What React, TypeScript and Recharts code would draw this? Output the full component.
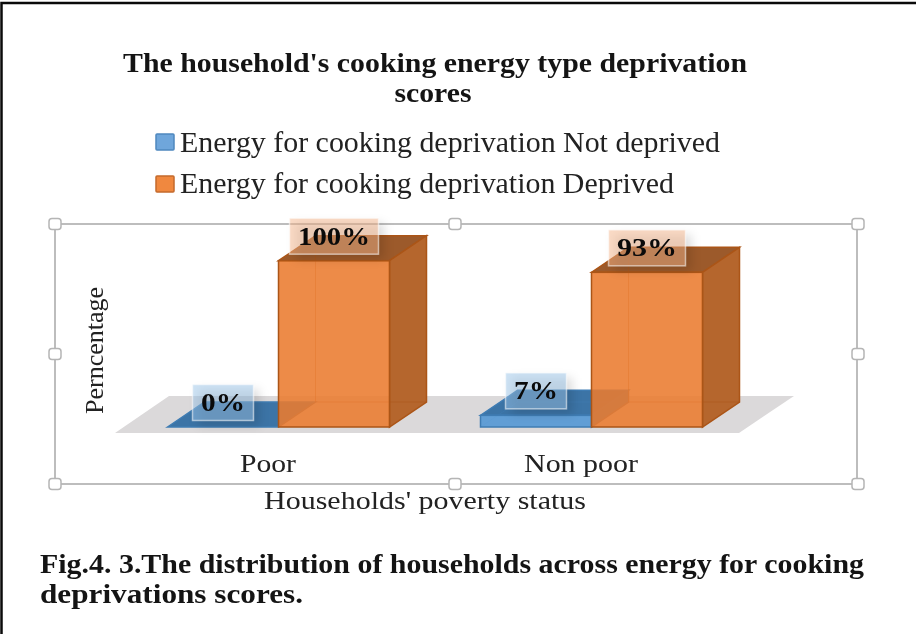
import * as React from "react";
import { BarChart, Bar, XAxis, YAxis, Legend, LabelList, usePlotArea } from "recharts";

// Values
const categories = ["Poor", "Non poor"];
const notDeprived = [0, 7];
const deprived = [100, 93];
const seriesNames = [
  "Energy for cooking deprivation Not deprived",
  "Energy for cooking deprivation Deprived",
];
const titleLines = ["The household's cooking energy type deprivation", "scores"];
const captionLines = [
  "Fig.4. 3.The distribution of households across energy for cooking",
  "deprivations scores.",
];
const xTitle = "Households' poverty status";
const yTitle = "Perncentage";

const data = categories.map((name, i) => ({
  name,
  notDeprived: notDeprived[i],
  deprived: deprived[i],
}));

const SERIF = "'Liberation Serif', serif";
const DEPTH_X = 37;
const DEPTH_Y = 25;

// Width of each text in the source, which is a stretched scan
const textWidths: Record<string, number> = {
  "Poor": 56,
  "Non poor": 114,
  "0%": 44,
  "7%": 44,
  "93%": 60,
  "100%": 72,
};

interface ICuboidColors {
  front: string;
  side: string;
  top: string;
  edge: string;
  opacity: number;
}

const blueColors: ICuboidColors = { front: "#5b9bd5", side: "#3d78ad", top: "#3c74a6", edge: "#3f7cb3", opacity: 0.95 };
const orangeColors: ICuboidColors = { front: "#ea7b2f", side: "#b5662d", top: "#9c5a2b", edge: "#ab5517", opacity: 0.88 };

const Cuboid = (colors: ICuboidColors) =>
  function CuboidShape(props: any) {
    const { x, y, width, height } = props;
    const base = y + height;
    const r = x + width;
    return (
      <g>
        <polygon
          points={`${x},${y} ${x + DEPTH_X},${y - DEPTH_Y} ${r + DEPTH_X},${y - DEPTH_Y} ${r},${y}`}
          fill={colors.top}
          stroke={colors.edge}
          strokeWidth={1.5}
        />
        {height > 0 && (
          <>
            <polygon
              points={`${r},${y} ${r + DEPTH_X},${y - DEPTH_Y} ${r + DEPTH_X},${base - DEPTH_Y} ${r},${base}`}
              fill={colors.side}
              stroke={colors.edge}
              strokeWidth={1.5}
            />
            <polyline
              points={`${x},${base} ${x + DEPTH_X},${base - DEPTH_Y} ${r + DEPTH_X},${base - DEPTH_Y}`}
              fill="none"
              stroke={colors.edge}
              strokeOpacity={0.5}
            />
            <line
              x1={x + DEPTH_X}
              y1={y - DEPTH_Y}
              x2={x + DEPTH_X}
              y2={base - DEPTH_Y}
              stroke={colors.edge}
              strokeOpacity={0.5}
            />
            <rect
              x={x}
              y={y}
              width={width}
              height={height}
              fill={colors.front}
              fillOpacity={colors.opacity}
              stroke={colors.edge}
              strokeWidth={1.5}
            />
          </>
        )}
      </g>
    );
  };

const BlueShape = Cuboid(blueColors);
const OrangeShape = Cuboid(orangeColors);

// Data label sits on a pale box above the front face, with a soft shadow
const boxLabel = (fill: string) =>
  function BoxLabel(props: any) {
    const { x, y, width, value } = props;
    const text = `${value}%`;
    const w = textWidths[text] + 17;
    const cx = x + width / 2;
    const cy = y - 24.5;
    return (
      <g>
        <rect
          x={cx - w / 2 + 6}
          y={cy - 13}
          width={w}
          height={36}
          fill="#000000"
          fillOpacity={0.13}
          style={{ filter: "blur(5px)" }}
        />
        <rect
          x={cx - w / 2}
          y={cy - 18}
          width={w}
          height={36}
          fill={fill}
          fillOpacity={0.5}
          stroke="#ffffff"
          strokeOpacity={0.55}
          strokeWidth={1.5}
        />
        <text
          x={cx}
          y={cy + 8.5}
          textAnchor="middle"
          fontFamily={SERIF}
          fontWeight="bold"
          fontSize={26}
          fill="#0a0a0a"
          textLength={textWidths[text]}
          lengthAdjust="spacingAndGlyphs"
        >
          {text}
        </text>
      </g>
    );
  };

// Grey floor under the bars, placed from the plot area
const Floor = () => {
  const plot = usePlotArea();
  if (!plot) return null;
  const bottom = plot.y + plot.height + 6;
  const back = plot.y + plot.height - 31;
  const left = plot.x - 6.5;
  const right = plot.x + plot.width - 8.5;
  return (
    <polygon
      points={`${left},${bottom} ${left + 54},${back} ${right + 55},${back} ${right},${bottom}`}
      fill="#dbd9da"
    />
  );
};

const CategoryTick = (props: any) => {
  const { x, y, payload } = props;
  return (
    <text
      x={x - 10}
      y={y + 37}
      textAnchor="middle"
      fontFamily={SERIF}
      fontSize={26}
      fill="#222222"
      textLength={textWidths[payload.value]}
      lengthAdjust="spacingAndGlyphs"
    >
      {payload.value}
    </text>
  );
};

const XTitle = (props: any) => {
  const { viewBox } = props;
  return (
    <text
      x={425}
      y={viewBox.y + 82}
      textAnchor="middle"
      fontFamily={SERIF}
      fontSize={26}
      fill="#222222"
      textLength={322}
      lengthAdjust="spacingAndGlyphs"
    >
      {xTitle}
    </text>
  );
};

const YTitle = () => (
  <text
    x={0}
    y={0}
    transform="translate(103 350.5) rotate(-90)"
    textAnchor="middle"
    fontFamily={SERIF}
    fontSize={26}
    fill="#222222"
    textLength={127}
    lengthAdjust="spacingAndGlyphs"
  >
    {yTitle}
  </text>
);

const LegendBlock = () => (
  <svg width={700} height={80} style={{ display: "block" }}>
    {seriesNames.map((name, i) => (
      <g key={name}>
        <rect
          x={1}
          y={11 + i * 42}
          width={18}
          height={16}
          rx={1}
          fill={i === 0 ? "#6fa6db" : "#f0883f"}
          stroke={i === 0 ? "#4f88bf" : "#c46a2c"}
          strokeWidth={1.5}
        />
        <text
          x={25}
          y={29 + i * 41}
          fontFamily={SERIF}
          fontSize={29}
          fill="#222222"
          textLength={i === 0 ? 540 : 494}
          lengthAdjust="spacingAndGlyphs"
        >
          {name}
        </text>
      </g>
    ))}
  </svg>
);

const handles = [
  [55, 224], [455, 224], [858, 224],
  [55, 354], [858, 354],
  [55, 484], [455, 484], [858, 484],
];

const boldLine = (text: string, x: number, y: number, len: number, size: number, anchor = "start") => (
  <text
    key={text}
    x={x}
    y={y}
    textAnchor={anchor as any}
    fontFamily={SERIF}
    fontWeight="bold"
    fontSize={size}
    fill="#141414"
    textLength={len}
    lengthAdjust="spacingAndGlyphs"
  >
    {text}
  </text>
);

const App: React.FC = () => (
  <div
    style={{
      position: "absolute",
      left: 0,
      top: 0,
      width: 916,
      height: 634,
      background: "#ffffff",
      overflow: "hidden",
      filter: "blur(0.5px)",
    }}
  >
    <svg width={916} height={634} style={{ position: "absolute", left: 0, top: 0 }}>
      <rect x={1.5} y={3} width={930} height={700} fill="none" stroke="#0a0a0a" strokeWidth={2.5} />
      <rect x={55} y={224} width={802} height={260} fill="none" stroke="#bdbdbd" strokeWidth={2} />
      {handles.map(([hx, hy]) => (
        <rect
          key={`${hx}-${hy}`}
          x={hx - 6}
          y={hy - 5.5}
          width={12}
          height={11}
          rx={3}
          fill="#ffffff"
          stroke="#b5b5b5"
          strokeWidth={1.5}
        />
      ))}
      {boldLine(titleLines[0], 123, 71.5, 624, 27)}
      {boldLine(titleLines[1], 433, 101.5, 77, 27, "middle")}
      {boldLine(captionLines[0], 40, 573, 824, 27)}
      {boldLine(captionLines[1], 40, 603, 263, 27)}
    </svg>
    <div style={{ position: "absolute", left: 0, top: 0 }}>
      <BarChart
        width={916}
        height={634}
        data={data}
        barGap={0}
        barCategoryGap={45.5}
        margin={{ top: 260.7, right: 168.5, bottom: 67, left: 61.5 }}
      >
        <Floor />
        <XAxis
          dataKey="name"
          height={60}
          axisLine={false}
          tickLine={false}
          interval={0}
          tick={CategoryTick}
          label={<XTitle />}
        />
        <YAxis
          width={60}
          domain={[0, 100]}
          tick={false}
          axisLine={false}
          tickLine={false}
          label={<YTitle />}
        />
        <Legend
          content={<LegendBlock />}
          wrapperStyle={{ position: "absolute", left: 155, top: 123, width: 700, height: 80 }}
        />
        <Bar
          dataKey="notDeprived"
          name={seriesNames[0]}
          barSize={111}
          shape={BlueShape}
          isAnimationActive={false}
        >
          <LabelList dataKey="notDeprived" content={boxLabel("#9cc6ea")} />
        </Bar>
        <Bar
          dataKey="deprived"
          name={seriesNames[1]}
          barSize={111}
          shape={OrangeShape}
          isAnimationActive={false}
        >
          <LabelList dataKey="deprived" content={boxLabel("#f6b58c")} />
        </Bar>
      </BarChart>
    </div>
  </div>
);

export default App;
